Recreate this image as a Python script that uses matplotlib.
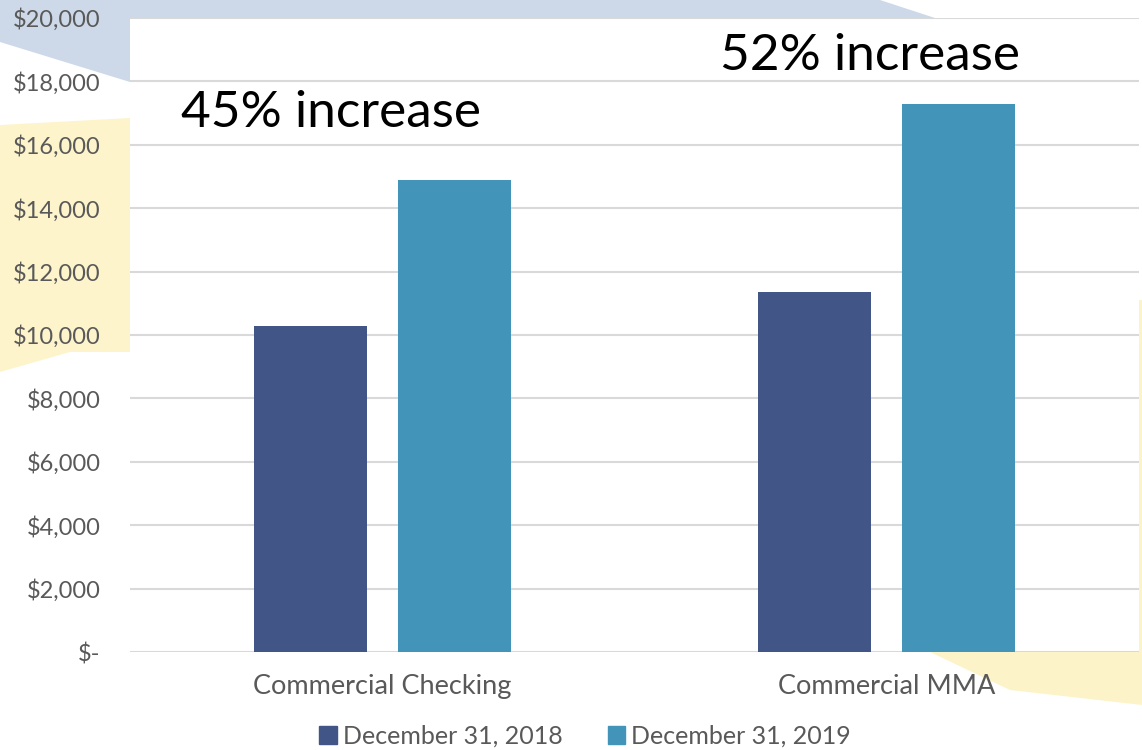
import matplotlib.pyplot as plt
from matplotlib.patches import Polygon, Patch
import numpy as np

categories = ["Commercial Checking", "Commercial MMA"]
series_names = ["December 31, 2018", "December 31, 2019"]
dec_2018 = [10280, 11360]
dec_2019 = [14900, 17290]
notes = ["45% increase", "52% increase"]
yticks = [0, 2000, 4000, 6000, 8000, 10000, 12000, 14000, 16000, 18000, 20000]

C18 = "#425587"
C19 = "#4394b9"
GREY = "#595959"

W, H = 1142, 750
fig = plt.figure(figsize=(W / 100, H / 100), dpi=100)
fig.patch.set_facecolor("white")


def px(points):
    return [(x / W, 1 - y / H) for x, y in points]


# decorative background swooshes
fig.patches.append(Polygon(px([(0, 0), (880, 0), (935, 18), (130, 82), (0, 42)]),
                           closed=True, transform=fig.transFigure,
                           facecolor="#cdd9e8", edgecolor="none", zorder=0))
fig.patches.append(Polygon(px([(0, 125), (130, 118), (130, 352), (70, 352), (0, 372)]),
                           closed=True, transform=fig.transFigure,
                           facecolor="#fdf4cc", edgecolor="none", zorder=0))
fig.patches.append(Polygon(px([(930, 652), (1142, 630), (1142, 705), (1010, 690)]),
                           closed=True, transform=fig.transFigure,
                           facecolor="#fdf3c9", edgecolor="none", zorder=0))
fig.patches.append(Polygon(px([(1138, 300), (1142, 300), (1142, 652), (1138, 652)]),
                           closed=True, transform=fig.transFigure,
                           facecolor="#fdf3c9", edgecolor="none", zorder=0))

ax = fig.add_axes([130 / W, 1 - 652 / H, (1139 - 130) / W, (652 - 18) / H])
ax.set_facecolor("white")
ax.set_zorder(1)

x = np.arange(len(categories))
bw = 0.224
off = 0.143
ax.bar(x - off, dec_2018, bw, color=C18, zorder=3)
ax.bar(x + off, dec_2019, bw, color=C19, zorder=3)

ax.set_xlim(-0.5, 1.5)
ax.set_ylim(0, 20000)
ax.set_yticks(yticks)
ax.set_yticklabels(["$-" if v == 0 else f"${v:,.0f}" for v in yticks])
ax.set_xticks(x)
ax.set_xticklabels(categories)
ax.grid(axis="y", color="#d9d9d9", linewidth=1.5, zorder=0)
for s in ax.spines.values():
    s.set_visible(False)
ax.tick_params(axis="y", length=0, labelsize=17, labelcolor=GREY, pad=21)
ax.tick_params(axis="x", length=0, labelsize=19.5, labelcolor=GREY, pad=16)
for lab in ax.get_xticklabels() + ax.get_yticklabels():
    lab.set_fontfamily("Lato")

# annotations
fig.text(181 / W, 1 - 127 / H, notes[0], fontsize=37, family="Lato",
         color="black", va="baseline", ha="left", zorder=5)
fig.text(720 / W, 1 - 70 / H, notes[1], fontsize=37, family="Lato",
         color="black", va="baseline", ha="left", zorder=5)

handles = [Patch(color=C18), Patch(color=C19)]
leg = fig.legend(handles, series_names, loc="center", bbox_to_anchor=(585 / W, 1 - 736 / H),
                 ncol=2, frameon=False, handlelength=0.7, handleheight=0.7,
                 handletextpad=0.25, columnspacing=1.8,
                 prop={"family": "Lato", "size": 18})
for t in leg.get_texts():
    t.set_color(GREY)

fig.savefig("out.png", dpi=100)
